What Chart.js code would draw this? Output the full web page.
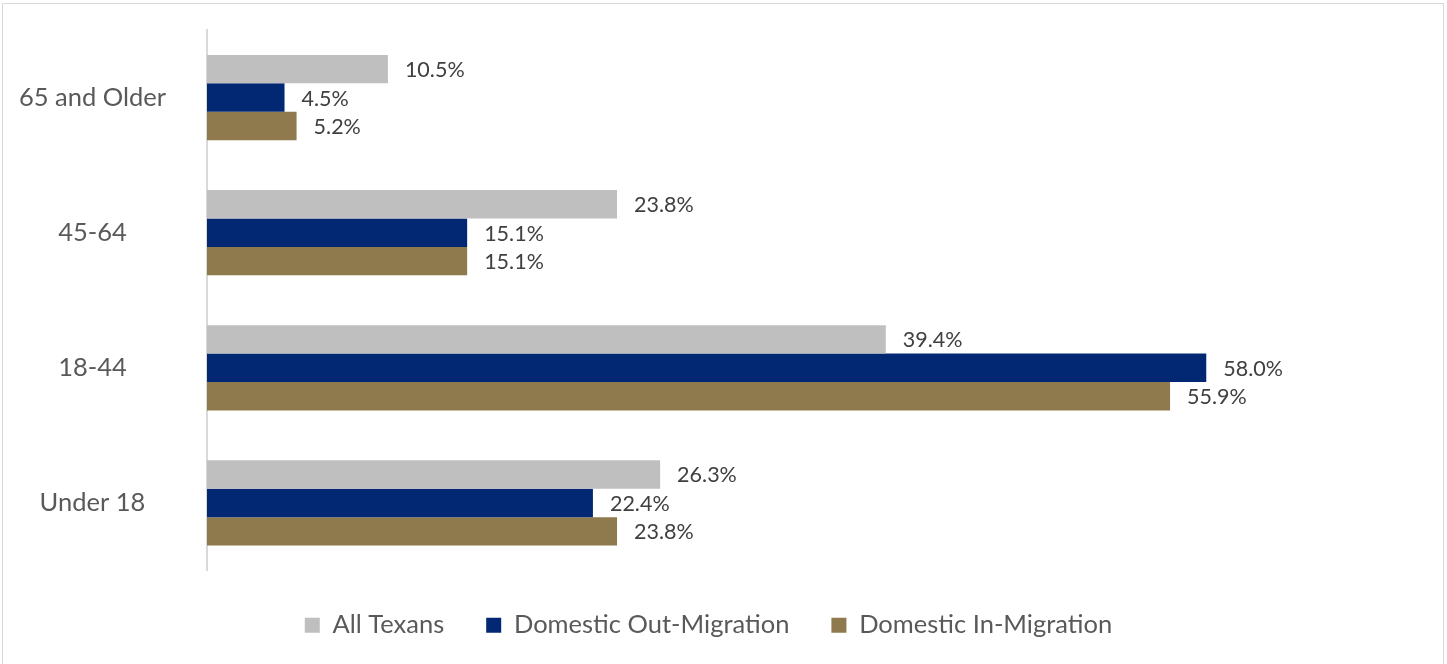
<!DOCTYPE html>
<html>
<head>
<meta charset="utf-8">
<script src="https://cdn.jsdelivr.net/npm/chart.js@4.4.1/dist/chart.umd.min.js"></script>
<style>
  html, body { margin: 0; padding: 0; background: #fff; overflow: hidden; }
  body { width: 1447px; height: 664px; position: relative; }
  .frame {
    position: absolute; left: 2px; top: 3px; width: 1440px; height: 700px;
    border: 1px solid #d9d9d9;
  }
  .chart-box { position: absolute; left: 4px; top: 5px; width: 1438px; height: 643px; }
</style>
</head>
<body>
<div class="frame"></div>
<div class="chart-box"><canvas id="ageChart"></canvas></div>
<script>
const ageGroups = ["65 and Older", "45-64", "18-44", "Under 18"];
const allTexans = [10.5, 23.8, 39.4, 26.3];
const outMigration = [4.5, 15.1, 58.0, 22.4];
const inMigration = [5.2, 15.1, 55.9, 23.8];

const FONT = "Lato, 'Open Sans', sans-serif";

// percentage text just past the end of each bar
const barValueLabels = {
  id: "barValueLabels",
  afterDatasetsDraw(chart) {
    const ctx = chart.ctx;
    ctx.save();
    ctx.font = "21.5px " + FONT;
    ctx.fillStyle = "#404040";
    ctx.textAlign = "left";
    ctx.textBaseline = "middle";
    chart.data.datasets.forEach((dataset, i) => {
      const meta = chart.getDatasetMeta(i);
      meta.data.forEach((bar, j) => {
        ctx.fillText(dataset.data[j].toFixed(1) + "%", bar.x + 17, bar.y + 1);
      });
    });
    ctx.restore();
  }
};

const chart = new Chart("ageChart", {
  type: "bar",
  data: {
    labels: ageGroups,
    datasets: [
      {
        label: "All Texans",
        backgroundColor: "#bfbfbf",
        data: allTexans,
      },
      {
        label: "Domestic Out-Migration",
        backgroundColor: "#022873",
        data: outMigration,
      },
      {
        label: "Domestic In-Migration",
        backgroundColor: "#8e7a4c",
        data: inMigration,
      },
    ],
  },
  options: {
    indexAxis: "y",
    responsive: true,
    maintainAspectRatio: false,
    animation: false,
    categoryPercentage: 0.63,
    barPercentage: 1.0,
    layout: {
      padding: { top: 25, right: 29, left: 0, bottom: 0 },
    },
    plugins: {
      legend: {
        position: "bottom",
        labels: {
          boxWidth: 15,
          boxHeight: 15,
          padding: 42,
          color: "#595959",
          font: { family: FONT, size: 25.5 },
        },
      },
      tooltip: { enabled: false },
    },
    scales: {
      x: {
        display: false,
        min: 0,
        max: 70,
      },
      y: {
        afterFit(scale) {
          // fixed label column; tick padding only moves the labels sideways
          scale.width = 203;
          scale.paddingTop = 0;
          scale.paddingBottom = 0;
        },
        grid: { display: false, drawTicks: false },
        border: { display: true, color: "#d9d9d9", width: 2 },
        ticks: {
          crossAlign: "center",
          padding: 41,
          color: "#595959",
          font: { family: FONT, size: 25.5 },
        },
      },
    },
  },
  plugins: [barValueLabels],
});
</script>
</body>
</html>
